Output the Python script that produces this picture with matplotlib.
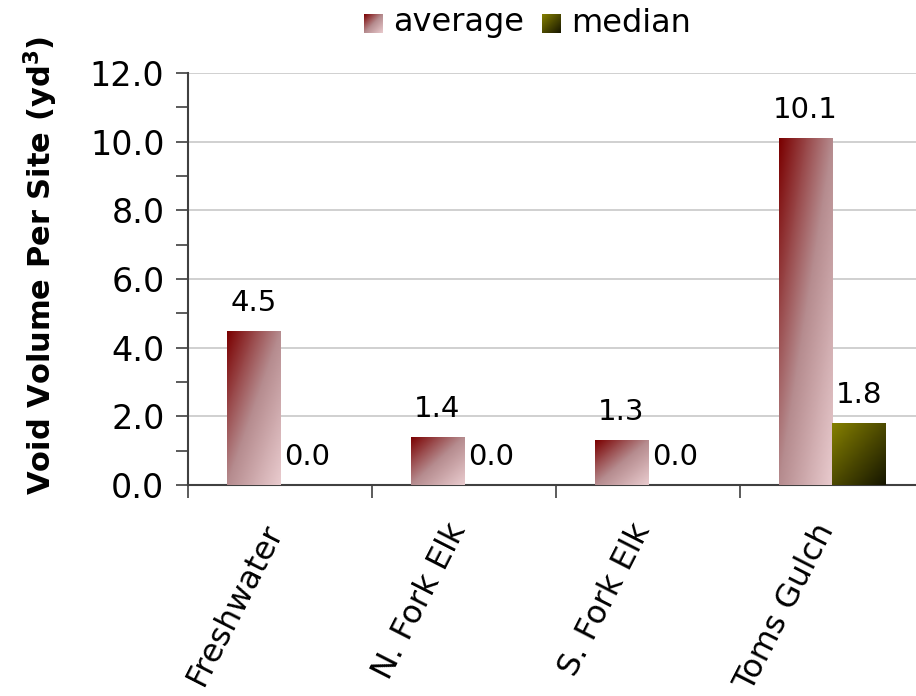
import matplotlib
matplotlib.use("Agg")
import matplotlib.pyplot as plt
import numpy as np
from matplotlib.colors import LinearSegmentedColormap

sites = ["Freshwater", "N. Fork Elk", "S. Fork Elk", "Toms Gulch"]
average = [4.5, 1.4, 1.3, 10.1]
median = [0.0, 0.0, 0.0, 1.8]
yticks = [0, 2, 4, 6, 8, 10, 12]

avg_cmap = LinearSegmentedColormap.from_list("avg", ["#7a0000", "#b58b8e", "#e9cbce"])
med_cmap = LinearSegmentedColormap.from_list("med", ["#858000", "#4d4a00", "#161600"])

plt.rcParams["font.family"] = "DejaVu Sans"

fig = plt.figure(figsize=(9.16, 6.96), dpi=100)
ax = fig.add_axes([188 / 916, 211 / 696, 736 / 916, 412 / 696])

# diagonal gradient: dark at top-left, light at bottom-right
grad = np.add.outer(np.linspace(0, 1, 64), np.linspace(0, 1, 64)) / 2


def gradient_bars(x, heights, cmap):
    bars = ax.bar(x, heights, width=0.29, align="edge", color="none",
                  linewidth=0, zorder=3)
    for r in bars:
        if r.get_height() <= 0:
            continue
        x0, y0 = r.get_x(), r.get_y()
        x1, y1 = x0 + r.get_width(), y0 + r.get_height()
        im = ax.imshow(grad, cmap=cmap, extent=[x0, x1, y0, y1],
                       origin="upper", aspect="auto", zorder=3,
                       interpolation="bilinear")
        im.set_clip_path(r)
    return bars


centers = np.arange(len(sites)) + 0.5
avg_bars = gradient_bars(centers - 0.29, average, avg_cmap)
med_bars = gradient_bars(centers, median, med_cmap)

for bars, vals in ((avg_bars, average), (med_bars, median)):
    for r, v in zip(bars, vals):
        ax.annotate(f"{v:.1f}", (r.get_x() + r.get_width() / 2, v),
                    xytext=(0, 10), textcoords="offset points",
                    ha="center", va="bottom", fontsize=21)

# slanted site names, anchored at the end of their baseline
for c, name in zip(centers, sites):
    ax.annotate(name, (c, 0), xytext=(2, -32), textcoords="offset points",
                rotation=63, rotation_mode="anchor", ha="right",
                va="baseline", fontsize=23, annotation_clip=False)

ax.set_xlim(0, 4)
ax.set_ylim(0, 12)
ax.set_yticks(yticks)
ax.set_yticklabels([f"{t:.1f}" for t in yticks], fontsize=24)
ax.set_yticks(np.arange(1, 12, 2), minor=True)
ax.set_xticks(np.arange(0, 5))
ax.set_xticklabels([])
ax.tick_params(axis="both", which="major", length=9, width=1.2, color="#404040")
ax.tick_params(axis="y", which="minor", length=9, width=1.2, color="#404040")
ax.tick_params(axis="y", pad=8)

ax.grid(axis="y", color="#c8c8c8", linewidth=1.2, zorder=0)
ax.set_axisbelow(True)
for s in ("top", "right"):
    ax.spines[s].set_visible(False)
for s in ("left", "bottom"):
    ax.spines[s].set_color("#404040")
    ax.spines[s].set_linewidth(1.5)

ax.set_ylabel("Void Volume Per Site (yd$^\\mathbf{3}$)", fontsize=22,
              fontweight="bold")
ax.yaxis.set_label_coords(-0.174, 0.534)

# legend squares and labels at the top
for x0, cmap, label in ((364, avg_cmap, "average"), (542, med_cmap, "median")):
    lax = fig.add_axes([x0 / 916, 1 - 33 / 696, 19 / 916, 19 / 696])
    lax.imshow(grad, cmap=cmap, aspect="auto", interpolation="bilinear")
    lax.axis("off")
    fig.text((x0 + 29) / 916, 1 - 23 / 696, label, fontsize=23,
             va="center", ha="left")

fig.savefig("out.png", dpi=100)
